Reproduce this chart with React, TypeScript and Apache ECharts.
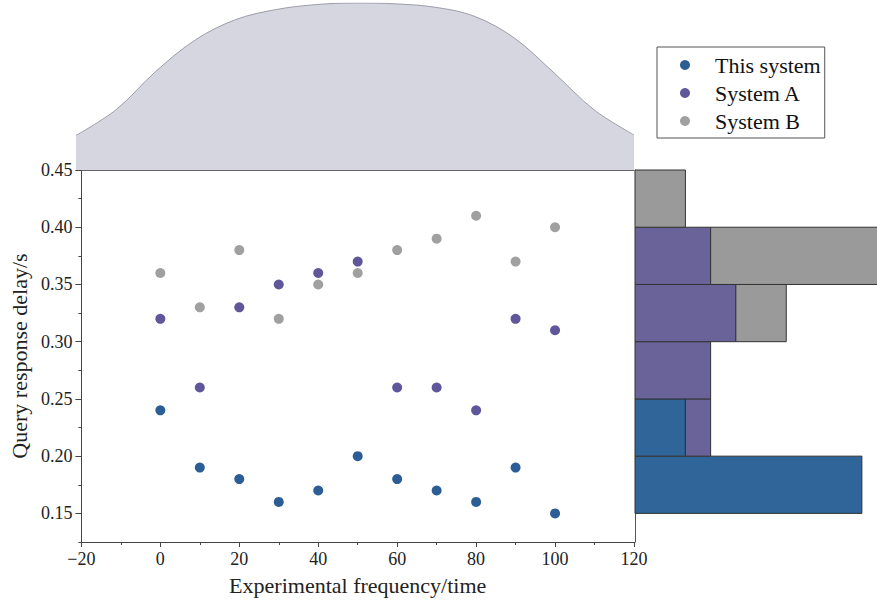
import React, { useEffect, useRef } from "react";
import * as echarts from "echarts";

const xValues = [0, 10, 20, 30, 40, 50, 60, 70, 80, 90, 100];
const thisSystem = [0.24, 0.19, 0.18, 0.16, 0.17, 0.2, 0.18, 0.17, 0.16, 0.19, 0.15];
const systemA = [0.32, 0.26, 0.33, 0.35, 0.36, 0.37, 0.26, 0.26, 0.24, 0.32, 0.31];
const systemB = [0.36, 0.33, 0.38, 0.32, 0.35, 0.36, 0.38, 0.39, 0.41, 0.37, 0.4];

const densityX = [-20, -10, 0, 10, 20, 30, 40, 50, 60, 70, 80, 90, 100, 110, 120];
const densityY = [0.207, 0.36, 0.59, 0.78, 0.9, 0.96, 0.99, 1.0, 0.995, 0.975, 0.92, 0.79, 0.58, 0.36, 0.21];

const binEdges = [0.15, 0.2, 0.25, 0.3, 0.35, 0.4, 0.45];
const thisSystemCounts = [9, 2, 0, 0, 0, 0];
const systemACounts = [0, 1, 3, 4, 3, 0];
const systemBCounts = [0, 0, 0, 2, 7, 2];

const yMajor = [0.15, 0.2, 0.25, 0.3, 0.35, 0.4, 0.45];
const yMinor = [0.125, 0.175, 0.225, 0.275, 0.325, 0.375, 0.425];

const names = ["This system", "System A", "System B"];
const scatterColors = ["#2c5e95", "#5f5799", "#a0a0a0"];
const barColors = ["#2f6598", "#6a6399", "#9a9a9a"];

const FONT = "Liberation Serif";

export default function App() {
  const ref = useRef<HTMLDivElement>(null);
  useEffect(() => {
    if (!ref.current) return;
    const chart = echarts.init(ref.current, null, { renderer: "svg" });

    const countSets = [thisSystemCounts, systemACounts, systemBCounts];
    const base = binEdges.slice(0, -1).map(() => 0);
    const histSeries = countSets.map((counts, si) => {
      const data: number[][] = [];
      counts.forEach((c, i) => {
        if (c > 0) data.push([binEdges[i], binEdges[i + 1], base[i], base[i] + c]);
        base[i] += c;
      });
      return {
        type: "custom",
        name: "hist-" + si,
        xAxisIndex: 2,
        yAxisIndex: 3,
        data,
        encode: { x: [2, 3], y: [0, 1] },
        renderItem: (params: any, api: any) => {
          const p0 = api.coord([api.value(2), api.value(1)]);
          const p1 = api.coord([api.value(3), api.value(0)]);
          return {
            type: "rect",
            shape: { x: p0[0], y: p0[1], width: p1[0] - p0[0], height: p1[1] - p0[1] },
            style: { fill: barColors[si], stroke: "#333", lineWidth: 1 },
          };
        },
      };
    });

    const seriesVals = [thisSystem, systemA, systemB];
    const scatterSeries = seriesVals.map((vals, si) => ({
      type: "scatter",
      name: names[si],
      xAxisIndex: 0,
      yAxisIndex: 0,
      symbolSize: 10,
      itemStyle: { color: scatterColors[si], opacity: 1 },
      data: xValues.map((x, i) => [x, vals[i]]),
    }));

    chart.setOption({
      animation: false,
      backgroundColor: "#fff",
      textStyle: { fontFamily: FONT },
      legend: {
        data: names,
        orient: "vertical",
        left: 657,
        top: 47,
        borderColor: "#555",
        borderWidth: 1,
        padding: [7, 4, 6, 23],
        icon: "circle",
        itemWidth: 50,
        itemHeight: 10,
        itemGap: 6,
        itemStyle: { opacity: 1 },
        textStyle: { fontFamily: FONT, fontSize: 22, color: "#111" },
      },
      grid: [
        { left: 76, top: 170, width: 558, height: 372 },
        { left: 76, top: 3, width: 558, height: 167 },
        { left: 635, top: 170, right: 0, height: 372 },
      ],
      xAxis: [
        {
          type: "value",
          gridIndex: 0,
          min: -20,
          max: 120,
          interval: 20,
          name: "Experimental frequency/time",
          nameLocation: "middle",
          nameGap: 32,
          nameTextStyle: { fontFamily: FONT, fontSize: 22, color: "#222" },
          axisLine: { show: true, onZero: false, lineStyle: { color: "#444", width: 1 } },
          axisTick: { show: true, length: 5, lineStyle: { color: "#444" } },
          minorTick: { show: true, splitNumber: 2, length: 3, lineStyle: { color: "#444" } },
          axisLabel: {
            fontFamily: FONT,
            fontSize: 18,
            color: "#222",
            margin: 8,
            formatter: (v: number) => String(v).replace("-", "\u2212"),
          },
          splitLine: { show: false },
        },
        {
          type: "value",
          gridIndex: 1,
          min: -20,
          max: 120,
          axisLine: { show: true, onZero: false, lineStyle: { color: "#666", width: 1 } },
          axisTick: { show: false },
          axisLabel: { show: false },
          splitLine: { show: false },
        },
        {
          type: "value",
          gridIndex: 2,
          min: 0,
          max: 9.6,
          show: false,
        },
      ],
      yAxis: [
        {
          type: "value",
          gridIndex: 0,
          position: "left",
          min: 0.125,
          max: 0.45,
          name: "Query response delay/s",
          nameLocation: "middle",
          nameGap: 44,
          nameTextStyle: { fontFamily: FONT, fontSize: 22, color: "#222" },
          axisLine: { show: true, onZero: false, lineStyle: { color: "#444", width: 1 } },
          axisTick: { show: true, length: 6, customValues: yMajor, lineStyle: { color: "#444" } },
          axisLabel: {
            fontFamily: FONT,
            fontSize: 18,
            color: "#222",
            margin: 9,
            customValues: yMajor,
            formatter: (v: number) => v.toFixed(2),
          },
          splitLine: { show: false },
        },
        {
          type: "value",
          gridIndex: 0,
          position: "left",
          offset: 0,
          min: 0.125,
          max: 0.45,
          axisLine: { show: false, onZero: false },
          axisTick: { show: true, length: 3, customValues: yMinor, lineStyle: { color: "#444" } },
          axisLabel: { show: false },
          splitLine: { show: false },
        },
        {
          type: "value",
          gridIndex: 1,
          min: 0,
          max: 1,
          show: false,
        },
        {
          type: "value",
          gridIndex: 2,
          min: 0.125,
          max: 0.45,
          axisLine: { show: true, onZero: false, lineStyle: { color: "#555", width: 1 } },
          axisTick: { show: false },
          axisLabel: { show: false },
          splitLine: { show: false },
        },
      ],
      series: [
        {
          type: "line",
          name: "density",
          xAxisIndex: 1,
          yAxisIndex: 2,
          smooth: 0.35,
          symbol: "none",
          lineStyle: { color: "#9c9ca8", width: 1 },
          areaStyle: { color: "#d5d6e0", opacity: 1 },
          data: densityX.map((x, i) => [x, densityY[i]]),
        },
        ...histSeries,
        ...scatterSeries,
      ],
    });
    return () => chart.dispose();
  }, []);
  return (
    <div
      ref={ref}
      style={{ width: 877, height: 606, position: "absolute", left: 0, top: 0 }}
    />
  );
}
